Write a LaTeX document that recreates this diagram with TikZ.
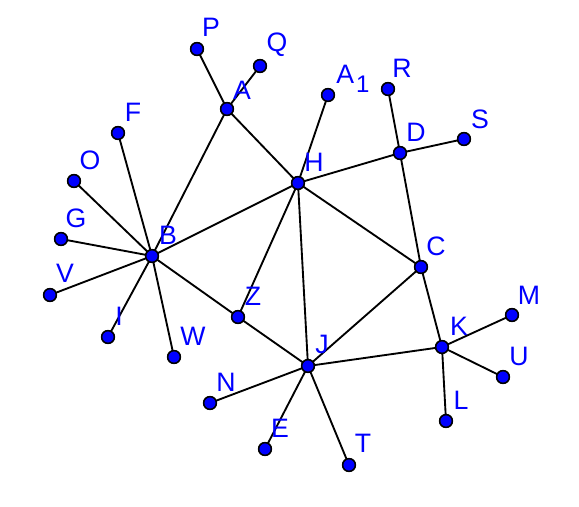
\documentclass[tikz,border=0pt]{standalone}
\usepackage{fontspec}
\setmainfont{Liberation Sans}
\begin{document}
\begin{tikzpicture}[x=0.75pt,y=-0.75pt,
  pt/.style={circle,fill=blue,draw=black,line width=1.1pt,inner sep=0pt,minimum size=9.5pt},
  lab/.style={text=blue,font=\fontsize{20}{22}\selectfont,inner sep=0pt,anchor=center},
  edge/.style={line width=1.4pt,black}]
\useasboundingbox (0,0) rectangle (579,507);
% points
\node[pt] (P) at (197,49) {};
\node[pt] (Q) at (260,66) {};
\node[pt] (A) at (227,109) {};
\node[pt] (A1) at (328,95) {};
\node[pt] (R) at (388,89) {};
\node[pt] (D) at (400,153) {};
\node[pt] (S) at (464,139) {};
\node[pt] (F) at (118,133) {};
\node[pt] (O) at (74,181) {};
\node[pt] (H) at (298,183) {};
\node[pt] (G) at (61,239) {};
\node[pt] (B) at (152,256) {};
\node[pt] (C) at (421,267) {};
\node[pt] (V) at (50,295) {};
\node[pt] (Z) at (238,317) {};
\node[pt] (M) at (512,315) {};
\node[pt] (I) at (108,337) {};
\node[pt] (W) at (174,357) {};
\node[pt] (K) at (442,347) {};
\node[pt] (J) at (308,366) {};
\node[pt] (U) at (503,377) {};
\node[pt] (N) at (210,403) {};
\node[pt] (E) at (265,449) {};
\node[pt] (L) at (446,421) {};
\node[pt] (T) at (349,465) {};
% edges
\foreach \a/\b in {P/A,Q/A,A/B,A/H,A1/H,H/D,R/D,D/S,D/C,H/C,H/B,H/Z,H/J,F/B,O/B,G/B,V/B,I/B,W/B,B/Z,Z/J,C/J,C/K,K/J,K/M,K/U,K/L,J/N,J/E,J/T}
  \draw[edge] (\a.center) -- (\b.center);
% redraw points on top
\foreach \n in {P,Q,A,A1,R,D,S,F,O,H,G,B,C,V,Z,M,I,W,K,J,U,N,E,L,T}
  \node[pt] at (\n) {};
% labels
\node[lab] (lP) at (211,27) {P};
\node[lab] (lQ) at (277,45) {Q};
\node[lab] (lA) at (242,90) {A};
\node[lab,anchor=base west] (lA1) at (336,83) {A\kern1.5pt\raisebox{-7pt}{\fontsize{18}{18}\selectfont 1}};
\node[lab] (lR) at (402,68) {R};
\node[lab] (lD) at (416,132) {D};
\node[lab] (lS) at (480,119) {S};
\node[lab] (lF) at (133,112) {F};
\node[lab] (lO) at (90,160) {O};
\node[lab] (lH) at (314,162) {H};
\node[lab] (lG) at (76,218) {G};
\node[lab] (lB) at (168,235) {B};
\node[lab] (lC) at (436,246) {C};
\node[lab] (lV) at (65,273) {V};
\node[lab] (lZ) at (253,296) {Z};
\node[lab] (lM) at (529,295) {M};
\node[lab] (lI) at (119,316) {I};
\node[lab] (lW) at (193,336) {W};
\node[lab] (lK) at (459,326) {K};
\node[lab] (lJ) at (322,344) {J};
\node[lab] (lU) at (519,356) {U};
\node[lab] (lN) at (226,382) {N};
\node[lab] (lE) at (280,428) {E};
\node[lab] (lL) at (461,400) {L};
\node[lab] (lT) at (363,443) {T};
\end{tikzpicture}
\end{document}
